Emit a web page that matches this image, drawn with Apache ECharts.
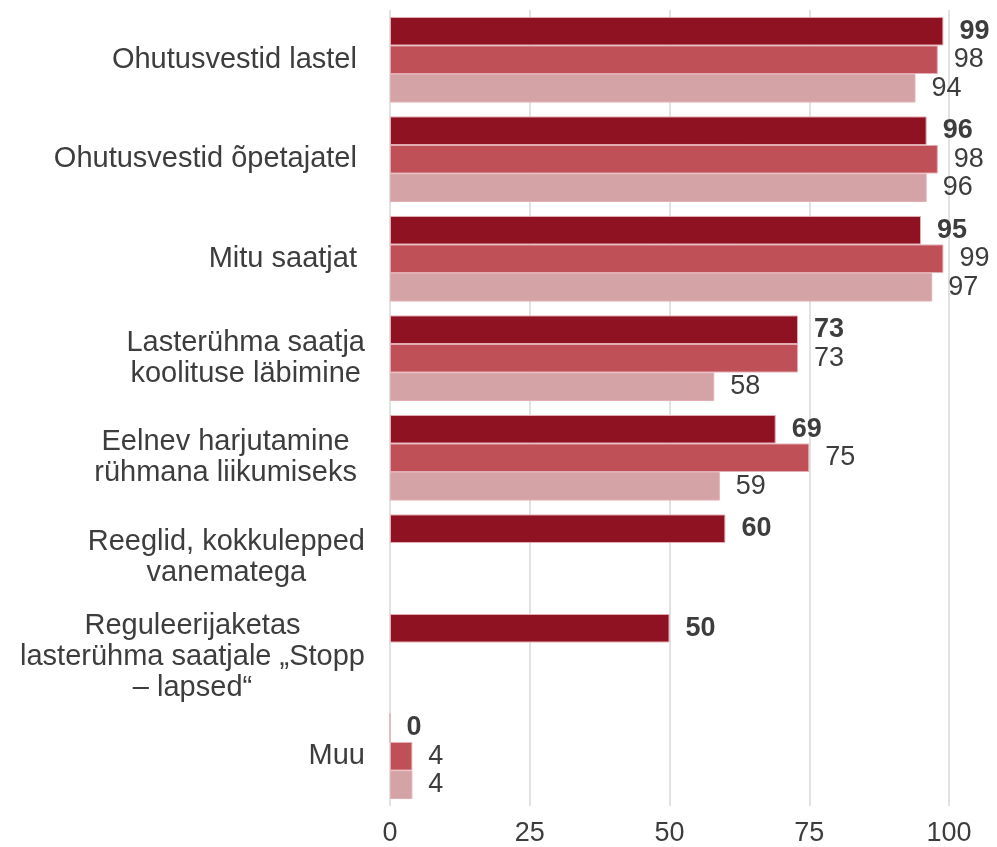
<!DOCTYPE html>
<html>
<head>
<meta charset="utf-8">
<script src="https://cdn.jsdelivr.net/npm/echarts@6/dist/echarts.min.js"></script>
<style>
  html, body { margin: 0; padding: 0; background: #fff; }
  #chart { width: 997px; height: 847px; }
</style>
</head>
<body>
<div id="chart"></div>
<script>
// kategooriad (ülevalt alla)
var categories = [
  'Ohutusvestid lastel ',
  'Ohutusvestid õpetajatel ',
  'Mitu saatjat ',
  'Lasterühma saatja\nkoolituse läbimine',
  'Eelnev harjutamine \nrühmana liikumiseks ',
  'Reeglid, kokkulepped\nvanematega',
  'Reguleerijaketas\nlasterühma saatjale „Stopp\n– lapsed“',
  'Muu'
];
var series1 = [99, 96, 95, 73, 69, 60, 50, 0];
var series2 = [98, 98, 99, 73, 75, null, null, 4];
var series3 = [94, 96, 97, 58, 59, null, null, 4];
var xTicks = [0, 25, 50, 75, 100];

var textColor = '#3d3d3d';
var fontFam = "'Liberation Sans', Arial, Helvetica, sans-serif";

function barSeries(data, color, bold) {
  return {
    type: 'bar',
    data: data,
    barGap: '0%',
    barCategoryGap: '14%',
    itemStyle: { color: color, borderColor: '#e3aeb3', borderWidth: 1 },
    label: {
      show: true,
      position: 'right',
      distance: 16,
      color: textColor,
      fontFamily: fontFam,
      fontSize: 27,
      fontWeight: bold ? 'bold' : 'normal',
      formatter: function (p) { return p.value == null ? '' : p.value; }
    },
    emphasis: { disabled: true }
  };
}

var option = {
  animation: false,
  backgroundColor: '#ffffff',
  grid: { left: 390, right: 48, top: 10, bottom: 39, containLabel: false },
  xAxis: {
    type: 'value',
    min: 0,
    max: 100,
    interval: 25,
    axisLine: { show: false },
    axisTick: { show: false },
    splitLine: { show: true, lineStyle: { color: '#e2e2e2', width: 2 } },
    axisLabel: {
      color: textColor,
      fontFamily: fontFam,
      fontSize: 27,
      margin: 14,
      formatter: function (v) { return xTicks.indexOf(v) >= 0 ? String(v) : ''; }
    }
  },
  yAxis: {
    type: 'category',
    inverse: true,
    data: categories,
    axisLine: { show: false },
    axisTick: { show: false },
    axisLabel: {
      margin: 25,
      color: textColor,
      fontFamily: fontFam,
      fontSize: 29,
      lineHeight: 31,
      formatter: function (v) {
        return v.split('\n').map(function (l) { return '{c|' + l + '}'; }).join('\n');
      },
      rich: {
        c: { align: 'center', color: textColor, fontFamily: fontFam, fontSize: 29, lineHeight: 31 }
      }
    }
  },
  series: [
    barSeries(series1, '#8e1222', true),
    barSeries(series2, '#bf5058', false),
    barSeries(series3, '#d4a3a6', false)
  ]
};

var chart = echarts.init(document.getElementById('chart'), null, { renderer: 'canvas' });
chart.setOption(option);
</script>
</body>
</html>
